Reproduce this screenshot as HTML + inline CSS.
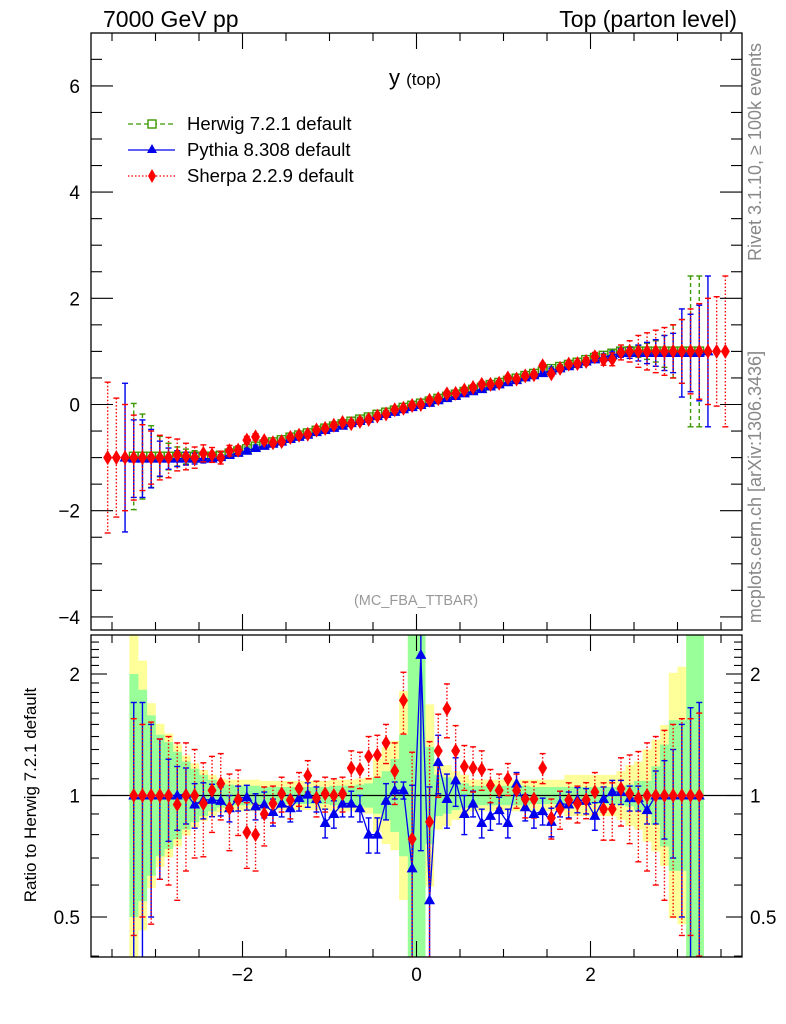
<!DOCTYPE html>
<html><head><meta charset="utf-8"><style>
html,body{margin:0;padding:0;background:#fff;width:786px;height:1024px;overflow:hidden;position:relative;}
svg{display:block;position:absolute;left:0;top:0;font-family:"Liberation Sans",sans-serif;}
</style></head><body>
<svg id="chart" width="786" height="1024" viewBox="0 0 786 1024" xmlns="http://www.w3.org/2000/svg">
<defs>
<clipPath id="cm"><rect x="91" y="33" width="651" height="597"/></clipPath>
<clipPath id="cr"><rect x="91" y="635" width="651" height="322"/></clipPath>
</defs>
<rect x="0" y="0" width="786" height="1024" fill="#fff"/>
<g id="rbands" clip-path="url(#cr)"></g>
<g id="mainG" clip-path="url(#cm)"></g>
<g id="ratioG" clip-path="url(#cr)"></g>
<g id="axes"></g>
<rect x="91" y="33" width="651" height="597" fill="none" stroke="#000" stroke-width="1.3"/>
<rect x="91" y="635" width="651" height="322" fill="none" stroke="#000" stroke-width="1.3"/>
<text x="103" y="27" font-size="23">7000 GeV pp</text>
<text x="737" y="27" font-size="23" text-anchor="end">Top (parton level)</text>
<text x="389" y="85" font-size="22">y <tspan font-size="17">(top)</tspan></text>
<text x="416" y="605" font-size="14.5" fill="#999" text-anchor="middle">(MC_FBA_TTBAR)</text>
<text transform="translate(761,152) rotate(-90)" font-size="18" fill="#888" text-anchor="middle">Rivet 3.1.10, ≥ 100k events</text>
<text transform="translate(761,487) rotate(-90)" font-size="18" fill="#888" text-anchor="middle">mcplots.cern.ch [arXiv:1306.3436]</text>
<text transform="translate(36,795) rotate(-90)" font-size="17" text-anchor="middle">Ratio to Herwig 7.2.1 default</text>
<g>
 <g>
  <line x1="128" y1="124" x2="175" y2="124" stroke="#3c9a00" stroke-width="1.3" stroke-dasharray="5,3"/>
  <rect x="148" y="120" width="8" height="8" fill="#fff" stroke="#3c9a00" stroke-width="1.4"/>
  <text x="187" y="130" font-size="18.5">Herwig 7.2.1 default</text>
 </g>
 <g>
  <line x1="128" y1="150" x2="175" y2="150" stroke="#0000ee" stroke-width="1.3"/>
  <polygon points="152,144 157,153 147,153" fill="#0000ee"/>
  <text x="187" y="156" font-size="18.5">Pythia 8.308 default</text>
 </g>
 <g>
  <line x1="128" y1="176" x2="175" y2="176" stroke="#ff0000" stroke-width="1.3" stroke-dasharray="1.5,2"/>
  <polygon points="152,169 156,176 152,183 148,176" fill="#ff0000"/>
  <text x="187" y="182" font-size="18.5">Sherpa 2.2.9 default</text>
 </g>
</g>
</svg>
<script>
// main-panel bin centers (72 bins, step 0.1)
const mainBins = [-3.55,-3.45,-3.35,-3.25,-3.15,-3.05,-2.95,-2.85,-2.75,-2.65,-2.55,-2.45,-2.35,-2.25,-2.15,-2.05,-1.95,-1.85,-1.75,-1.65,-1.55,-1.45,-1.35,-1.25,-1.15,-1.05,-0.95,-0.85,-0.75,-0.65,-0.55,-0.45,-0.35,-0.25,-0.15,-0.05,0.05,0.15,0.25,0.35,0.45,0.55,0.65,0.75,0.85,0.95,1.05,1.15,1.25,1.35,1.45,1.55,1.65,1.75,1.85,1.95,2.05,2.15,2.25,2.35,2.45,2.55,2.65,2.75,2.85,2.95,3.05,3.15,3.25,3.35,3.45,3.55];
const herwigVals = [null,null,null,-0.98,-0.98,-0.98,-0.98,-0.98,-0.98,-0.98,-0.98,-0.98,-0.98,-0.96,-0.92,-0.88,-0.84,-0.79,-0.75,-0.71,-0.67,-0.62,-0.58,-0.54,-0.49,-0.45,-0.41,-0.37,-0.32,-0.28,-0.24,-0.19,-0.15,-0.11,-0.06,-0.02,0.02,0.06,0.11,0.15,0.19,0.24,0.28,0.32,0.37,0.41,0.45,0.49,0.54,0.58,0.62,0.67,0.71,0.75,0.79,0.84,0.88,0.92,0.96,1.0,1.0,1.0,1.0,1.0,1.0,1.0,1.0,1.0,1.0,null,null,null];
const herwigErr = [null,null,null,1.0,0.8,0.58,0.38,0.25,0.18,0.14,0.11,0.09,0.07,0.06,0.04,0.04,0.04,0.04,0.04,0.04,0.04,0.04,0.04,0.04,0.04,0.04,0.04,0.04,0.04,0.04,0.04,0.04,0.04,0.04,0.04,0.04,0.04,0.04,0.04,0.04,0.04,0.04,0.04,0.04,0.04,0.04,0.04,0.04,0.04,0.04,0.04,0.04,0.04,0.04,0.04,0.04,0.04,0.04,0.06,0.07,0.09,0.11,0.15,0.2,0.3,0.5,0.6,1.42,1.42,null,null,null];
const pythiaVals = [null,null,-1.0,-1.02,-1.02,-1.02,-1.02,-1.02,-1.02,-1.02,-1.02,-1.02,-1.02,-0.99,-0.95,-0.91,-0.87,-0.82,-0.78,-0.74,-0.70,-0.65,-0.61,-0.57,-0.52,-0.48,-0.44,-0.40,-0.35,-0.31,-0.27,-0.22,-0.18,-0.14,-0.09,-0.05,-0.01,0.03,0.08,0.12,0.16,0.21,0.25,0.29,0.34,0.38,0.42,0.46,0.51,0.55,0.59,0.64,0.68,0.72,0.76,0.81,0.85,0.89,0.93,0.97,0.97,0.97,0.97,0.97,0.97,0.97,0.97,0.97,0.97,1.0,null,null];
const pythiaErr = [null,null,1.4,0.73,0.73,0.55,0.33,0.2,0.15,0.12,0.1,0.08,0.06,0.04,0.04,0.04,0.04,0.04,0.04,0.04,0.04,0.04,0.04,0.04,0.04,0.04,0.04,0.04,0.04,0.04,0.04,0.04,0.04,0.04,0.04,0.04,0.04,0.04,0.04,0.04,0.04,0.04,0.04,0.04,0.04,0.04,0.04,0.04,0.04,0.04,0.04,0.04,0.04,0.04,0.04,0.04,0.04,0.04,0.06,0.08,0.1,0.15,0.2,0.25,0.33,0.37,0.83,0.73,0.9,1.42,null,null];
const sherpaVals = [-1.0,-1.0,-1.0,-1.0,-1.0,-1.0,-1.0,-1.0,-0.95,-0.98,-1.0,-0.92,-0.95,-1.0,-0.87,-0.86,-0.67,-0.61,-0.68,-0.72,-0.70,-0.62,-0.58,-0.56,-0.48,-0.45,-0.39,-0.34,-0.36,-0.32,-0.28,-0.22,-0.18,-0.10,-0.07,-0.02,0.0,0.08,0.11,0.20,0.21,0.27,0.32,0.38,0.38,0.40,0.50,0.48,0.54,0.56,0.73,0.58,0.68,0.76,0.77,0.81,0.90,0.84,0.85,0.98,1.0,1.0,1.0,1.0,1.0,1.0,1.0,1.0,1.0,1.0,1.0,1.0];
const sherpaErr = [1.42,1.12,1.0,0.8,0.62,0.5,0.42,0.38,0.3,0.25,0.2,0.16,0.14,0.12,0.1,0.08,0.07,0.06,0.05,0.05,0.05,0.05,0.05,0.05,0.05,0.05,0.05,0.05,0.05,0.05,0.05,0.05,0.05,0.05,0.05,0.05,0.05,0.05,0.05,0.05,0.05,0.05,0.05,0.05,0.05,0.05,0.05,0.05,0.05,0.05,0.05,0.05,0.05,0.05,0.06,0.07,0.08,0.1,0.12,0.14,0.2,0.3,0.35,0.4,0.45,0.5,0.6,0.8,0.9,1.0,1.03,1.42];
// ratio-panel bin centers (66 bins)
const ratioBins = [-3.25,-3.15,-3.05,-2.95,-2.85,-2.75,-2.65,-2.55,-2.45,-2.35,-2.25,-2.15,-2.05,-1.95,-1.85,-1.75,-1.65,-1.55,-1.45,-1.35,-1.25,-1.15,-1.05,-0.95,-0.85,-0.75,-0.65,-0.55,-0.45,-0.35,-0.25,-0.15,-0.05,0.05,0.15,0.25,0.35,0.45,0.55,0.65,0.75,0.85,0.95,1.05,1.15,1.25,1.35,1.45,1.55,1.65,1.75,1.85,1.95,2.05,2.15,2.25,2.35,2.45,2.55,2.65,2.75,2.85,2.95,3.05,3.15,3.25];
const pythiaRatio = [1.0,1.0,1.0,1.0,1.0,1.0,1.01,0.95,0.975,0.976,0.97,0.93,0.985,0.99,0.94,0.95,0.91,0.955,0.93,0.985,1.005,0.98,0.855,0.90,0.955,0.955,0.93,0.80,0.80,0.97,1.03,1.03,0.66,2.23,0.55,1.21,0.98,1.09,0.90,0.955,0.855,0.89,0.92,0.855,1.07,0.935,0.90,0.915,0.86,0.955,0.95,0.976,0.97,0.89,0.98,1.02,1.02,0.985,0.985,0.92,1.0,1.0,1.0,1.0,1.0,1.0];
const pythiaRatioErr = [0.7,0.7,0.5,0.38,0.23,0.18,0.16,0.12,0.1,0.09,0.08,0.07,0.07,0.07,0.07,0.07,0.07,0.07,0.07,0.07,0.07,0.07,0.07,0.07,0.07,0.07,0.07,0.08,0.08,0.1,0.05,0.05,0.4,1.5,0.5,0.2,0.15,0.15,0.1,0.07,0.07,0.07,0.07,0.07,0.07,0.07,0.07,0.07,0.07,0.07,0.07,0.07,0.07,0.07,0.07,0.07,0.07,0.07,0.07,0.07,0.15,0.22,0.3,0.5,0.65,0.7];
const sherpaRatio = [1.0,1.0,1.0,1.0,1.0,0.95,1.0,1.0,0.955,1.03,1.07,0.93,0.976,0.81,0.80,0.90,0.955,1.01,0.975,1.04,1.12,0.985,1.01,1.0,1.01,1.17,1.16,1.25,1.26,1.35,1.15,1.72,0.78,null,0.86,1.29,1.64,1.29,1.18,1.17,1.16,1.06,1.03,1.10,1.03,0.98,0.98,1.17,0.88,0.925,0.975,0.955,0.976,1.02,0.925,0.925,1.04,1.01,0.985,1.0,1.0,1.0,1.0,1.0,1.0,1.0];
const sherpaRatioErr = [0.55,0.5,0.52,0.38,0.4,0.4,0.35,0.3,0.25,0.22,0.2,0.2,0.18,0.15,0.15,0.15,0.1,0.1,0.1,0.1,0.1,0.1,0.1,0.1,0.1,0.12,0.12,0.15,0.15,0.15,0.2,0.3,0.5,0,0.5,0.3,0.25,0.2,0.15,0.15,0.13,0.1,0.1,0.1,0.1,0.1,0.1,0.1,0.1,0.1,0.1,0.1,0.1,0.12,0.15,0.15,0.2,0.25,0.3,0.35,0.4,0.45,0.5,0.55,0.55,0.6];
// herwig uncertainty band half-widths (log2 units)
const bandInner = [1.0,0.87,0.66,0.5,0.44,0.36,0.28,0.22,0.17,0.13,0.1,0.09,0.08,0.08,0.08,0.07,0.07,0.07,0.07,0.07,0.07,0.07,0.07,0.08,0.08,0.08,0.09,0.1,0.15,0.2,0.3,0.5,2,2,0.4,0.17,0.15,0.12,0.1,0.08,0.08,0.08,0.08,0.08,0.08,0.08,0.07,0.07,0.07,0.07,0.07,0.07,0.07,0.07,0.07,0.07,0.08,0.09,0.12,0.12,0.24,0.42,0.62,0.62,2,2];
const bandOuter = [2,1.11,0.76,0.59,0.51,0.42,0.33,0.265,0.21,0.17,0.14,0.13,0.13,0.13,0.13,0.12,0.12,0.12,0.12,0.12,0.12,0.12,0.12,0.13,0.13,0.13,0.14,0.15,0.3,0.4,0.45,0.86,2,2,0.75,0.28,0.25,0.2,0.17,0.13,0.13,0.13,0.13,0.13,0.13,0.13,0.13,0.13,0.13,0.13,0.17,0.17,0.17,0.17,0.17,0.17,0.2,0.25,0.28,0.38,0.46,0.58,1.01,1.06,2,2];
const mainYTicks = [-4,-2,0,2,4,6];
const mainYTickLabels = ["\u22124","\u22122","0","2","4","6"];
const xTicks = [-2,0,2];
const xTickLabels = ["\u22122","0","2"];
const ratioTicks = [0.5,1,2];
const ratioTickLabels = ["0.5","1","2"];

const NS="http://www.w3.org/2000/svg";
const X=v=>416.5+87*v, YM=v=>404.5-53.1*v, YR=r=>795.5-121.5*Math.log2(r);
function mk(tag,attrs,parent){const e=document.createElementNS(NS,tag);for(const k in attrs)e.setAttribute(k,attrs[k]);parent.appendChild(e);return e;}
const mainG=document.getElementById('mainG'), ratioG=document.getElementById('ratioG'), rb=document.getElementById('rbands'), axes=document.getElementById('axes');
const GREEN="#3c9a00", BLUE="#0000ee", RED="#ff0000";

function errBar(g,x,y1,y2,col,dash,name){
  const l=mk('line',{x1:x,y1:y1,x2:x,y2:y2,stroke:col,'stroke-width':1.4},g);
  if(dash)l.setAttribute('stroke-dasharray',dash);
  
  
  mk('line',{x1:x-3,y1:y1,x2:x+3,y2:y1,stroke:col,'stroke-width':1.4},g);
  mk('line',{x1:x-3,y1:y2,x2:x+3,y2:y2,stroke:col,'stroke-width':1.4},g);
}
function square(g,x,y,name){const e=mk('rect',{x:x-4.3,y:y-4.3,width:8.6,height:8.6,fill:'none',stroke:GREEN,'stroke-width':1.4},g);
  
  }
function tri(g,x,y,name){const e=mk('polygon',{points:`${x},${y-6} ${x+5.5},${y+4} ${x-5.5},${y+4}`,fill:BLUE},g);
  
  }
function diam(g,x,y,name){const e=mk('polygon',{points:`${x},${y-7.5} ${x+4.5},${y} ${x},${y+7.5} ${x-4.5},${y}`,fill:RED},g);
  
  }

ratioBins.forEach((c,i)=>{
  const x0=X(c-0.05), w=X(c+0.05)-x0;
  const yo=mk('rect',{x:x0,y:YR(Math.pow(2,bandOuter[i])),width:w+0.3,height:YR(Math.pow(2,-bandOuter[i]))-YR(Math.pow(2,bandOuter[i])),fill:'#ffff99'},rb);
  
  
});
ratioBins.forEach((c,i)=>{
  const x0=X(c-0.05), w=X(c+0.05)-x0;
  const gi=mk('rect',{x:x0,y:YR(Math.pow(2,bandInner[i])),width:w+0.3,height:YR(Math.pow(2,-bandInner[i]))-YR(Math.pow(2,bandInner[i])),fill:'#99ff99'},rb);
  
  
});
const ref=mk('line',{x1:91,y1:YR(1),x2:742,y2:YR(1),stroke:'#000','stroke-width':1.3},rb);



mainBins.forEach((c,i)=>{ if(herwigVals[i]===null)return;
  errBar(mainG,X(c),YM(herwigVals[i]+herwigErr[i]),YM(herwigVals[i]-herwigErr[i]),GREEN,'4,3','herwig-error-bar');
  square(mainG,X(c),YM(herwigVals[i]),'herwig-point');});
let pp=[];
mainBins.forEach((c,i)=>{ if(pythiaVals[i]===null)return; pp.push(X(c)+','+YM(pythiaVals[i]));
  errBar(mainG,X(c),YM(pythiaVals[i]+pythiaErr[i]),YM(pythiaVals[i]-pythiaErr[i]),BLUE,null,'pythia-error-bar');});
const pl=mk('polyline',{points:pp.join(' '),fill:'none',stroke:BLUE,'stroke-width':1.3},mainG);


mainBins.forEach((c,i)=>{ if(pythiaVals[i]===null)return; tri(mainG,X(c),YM(pythiaVals[i]),'pythia-point');});
mainBins.forEach((c,i)=>{
  errBar(mainG,X(c),YM(sherpaVals[i]+sherpaErr[i]),YM(sherpaVals[i]-sherpaErr[i]),RED,'1.5,2','sherpa-error-bar');
  diam(mainG,X(c),YM(sherpaVals[i]),'sherpa-point');});

let rp=[];
ratioBins.forEach((c,i)=>{ rp.push(X(c)+','+YR(pythiaRatio[i]));
  errBar(ratioG,X(c),YR(pythiaRatio[i]+pythiaRatioErr[i]),YR(Math.max(0.3,pythiaRatio[i]-pythiaRatioErr[i])),BLUE,null,'pythia-ratio-error-bar');});
const rpl=mk('polyline',{points:rp.join(' '),fill:'none',stroke:BLUE,'stroke-width':1.3},ratioG);


ratioBins.forEach((c,i)=>{ if(sherpaRatio[i]===null)return;
  errBar(ratioG,X(c),YR(sherpaRatio[i]+sherpaRatioErr[i]),YR(Math.max(0.3,sherpaRatio[i]-sherpaRatioErr[i])),RED,'1.5,2','sherpa-ratio-error-bar');});
ratioBins.forEach((c,i)=>{ tri(ratioG,X(c),YR(pythiaRatio[i]),'pythia-ratio-point');});
ratioBins.forEach((c,i)=>{ if(sherpaRatio[i]===null)return; diam(ratioG,X(c),YR(sherpaRatio[i]),'sherpa-ratio-point');});

function tick(x1,y1,x2,y2){mk('line',{x1:x1,y1:y1,x2:x2,y2:y2,stroke:'#000','stroke-width':1.1},axes);}
for(let v=-4;v<=7.001;v+=0.5){const y=YM(v); if(y<33||y>630)continue; const maj=Math.abs(v/2-Math.round(v/2))<1e-6; const L=maj?22:11; tick(91,y,91+L,y); tick(742,y,742-L,y);}
mainYTicks.forEach((v,i)=>{const t=mk('text',{x:80,y:YM(v)+7,'font-size':19,'text-anchor':'end'},axes);t.textContent=mainYTickLabels[i];
  
  });
for(let v=-3.5;v<=3.6;v+=0.5){const x=X(v); if(x<91||x>742)continue; const maj=Math.abs(v/2-Math.round(v/2))<1e-6; const L=maj?16:8;
  tick(x,630,x,630-L); tick(x,33,x,33+L); tick(x,957,x,957-L); tick(x,635,x,635+L);}
xTicks.forEach((v,i)=>{const t=mk('text',{x:X(v),y:981,'font-size':19,'text-anchor':'middle'},axes);t.textContent=xTickLabels[i];
  
  });
const minorR=[0.4,0.6,0.7,0.8,0.9,1.1,1.2,1.3,1.4,1.5,1.6,1.7,1.8,1.9,2.1,2.2,2.3,2.4];
minorR.forEach(r=>{const y=YR(r); if(y<635||y>957)return; tick(91,y,99,y); tick(742,y,734,y);});
ratioTicks.forEach((r,i)=>{const y=YR(r); tick(91,y,107,y); tick(742,y,726,y);
  const t=mk('text',{x:80,y:y+7,'font-size':19,'text-anchor':'end'},axes);t.textContent=ratioTickLabels[i];
  
  
  const t2=mk('text',{x:750,y:y+7,'font-size':19},axes);t2.textContent=ratioTickLabels[i];
  
  });
</script>
</body></html>
